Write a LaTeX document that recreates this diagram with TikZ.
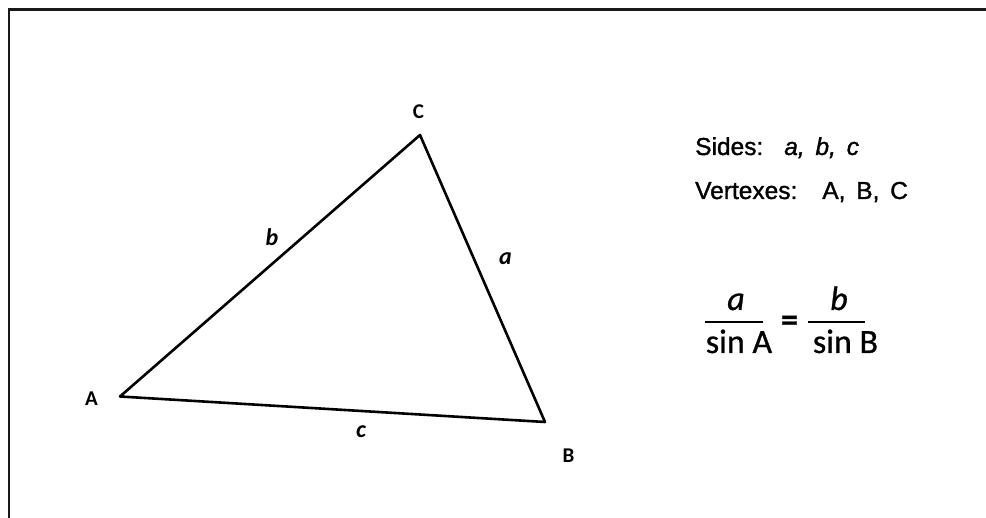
\documentclass[tikz,border=0pt]{standalone}
\usepackage{fontspec}
\newfontfamily\arialf[FakeBold=1.3]{Liberation Sans}
\newfontfamily\calif[FakeBold=0.8]{Carlito}
\newfontfamily\califb{Carlito}
\begin{document}
\begin{tikzpicture}[x=1pt,y=-1pt,
  vlabel/.style={inner sep=0pt,font=\califb\bfseries\fontsize{21}{24}\selectfont},
  slabel/.style={inner sep=0pt,font=\califb\bfseries\itshape\fontsize{24}{28}\selectfont},
  info/.style={inner sep=0pt,anchor=base west,font=\arialf\fontsize{24.5}{28}\selectfont},
  frac/.style={inner sep=0pt,anchor=base,font=\calif\fontsize{34}{40}\selectfont},
  edge/.style={line width=2.6pt,line join=round,line cap=round}]
\useasboundingbox (0,0) rectangle (986,518);
\fill[white] (0,0) rectangle (986,518);
% frame
\draw[line width=2.2pt,draw=black!90] (9,518) -- (9,9.5) -- (986,9.5);
% vertices
\coordinate (A) at (120,396.5);
\coordinate (B) at (545,422);
\coordinate (C) at (420,135);
\draw[edge] (A) -- (C) -- (B) -- cycle;
% labels
\node[vlabel] (lA) at (91.5,398.5) {A};
\node[vlabel] (lB) at (568.5,455.5) {B};
\node[vlabel] (lC) at (418.5,111.5) {C};
\node[slabel] (la) at (505.5,259) {a};
\node[slabel] (lb) at (272,237) {b};
\node[slabel] (lc) at (361,432) {c};
% info text
\node[info] (sides) at (695,155) {Sides:\hspace{21pt}\textit{a,\hspace{4pt} b,\hspace{4pt} c}};
\node[info] (verts) at (695,199) {Vertexes:\hspace{25pt}A,\hspace{4pt} B,\hspace{4pt} C};
% law of sines
\coordinate (bar1l) at (705,322);
\coordinate (bar1r) at (763,322);
\coordinate (bar2l) at (808,322);
\coordinate (bar2r) at (865,322);
\draw[line width=2.4pt] (bar1l) -- (bar1r);
\draw[line width=2.4pt] (bar2l) -- (bar2r);
\node[frac] (na) at (736,310) {\itshape a};
\node[frac] (da) at (739,353) {sin A};
\node[frac,font=\calif\bfseries\fontsize{34}{40}\selectfont] (eq) at (789.5,331) {=};
\node[frac] (nb) at (839,310) {\itshape b};
\node[frac] (db) at (845.5,353) {sin B};
\end{tikzpicture}
\end{document}
